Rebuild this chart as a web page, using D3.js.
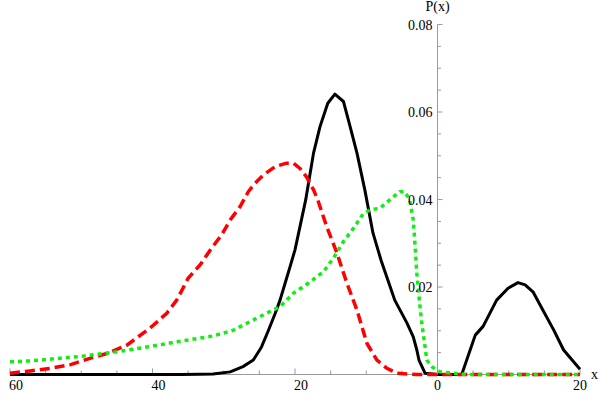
<!DOCTYPE html>
<html>
<head>
<meta charset="utf-8">
<script src="https://cdn.jsdelivr.net/npm/d3@7"></script>
<style>
  html, body { margin: 0; padding: 0; background: #fff; }
  svg { display: block; }
  text { font-family: "Liberation Serif", "DejaVu Serif", serif; }
</style>
</head>
<body>
<svg id="chart" width="600" height="395"></svg>
<script>
// ---- data ----
const xTickValues = [-60, -40, -20, 0, 20];
const xTickLabels = ["60", "40", "20", "0", "20"];
const yTickValues = [0.02, 0.04, 0.06, 0.08];
const yTickLabels = ["0.02", "0.04", "0.06", "0.08"];

const blackSeries = [
  [-60, 0], [-45, 0], [-36, 0], [-33.3, 0.00005], [-31.5, 0.0001], [-29.1, 0.0006],
  [-27.3, 0.0018], [-25.85, 0.0033], [-24.7, 0.0063], [-23.75, 0.01], [-22.8, 0.0139],
  [-22.1, 0.017], [-21.4, 0.0208], [-20.7, 0.0246], [-20.0, 0.0285], [-19.3, 0.0338],
  [-18.5, 0.0399], [-17.4, 0.0506], [-16.5, 0.0566], [-15.4, 0.062], [-14.4, 0.0641],
  [-13.2, 0.0624], [-12.4, 0.0575], [-11.3, 0.0506], [-10.2, 0.0422], [-9.05, 0.0323],
  [-7.9, 0.026], [-7.2, 0.0227], [-6.0, 0.017], [-4.3, 0.0118], [-3.4, 0.0086],
  [-2.9, 0.0056], [-2.6, 0.0033], [-1.75, 0.0003], [0, 0], [3.4, 0],
  [4.1, 0.0033], [5.3, 0.009], [6.4, 0.011], [8.3, 0.017], [9.9, 0.0197],
  [11.3, 0.021], [12.3, 0.0205], [13.4, 0.0189], [14.8, 0.0147], [16.3, 0.0102],
  [17.7, 0.0056], [19.1, 0.0029], [20, 0.0012]
];

const redSeries = [
  [-60, 0.0003], [-57.2, 0.0008], [-54.4, 0.0014], [-51.6, 0.0022], [-48.8, 0.0037],
  [-46.4, 0.0048], [-43.6, 0.0067], [-40.35, 0.0106], [-38.0, 0.014], [-36.6, 0.017],
  [-35.0, 0.022], [-33.3, 0.0251], [-31.7, 0.0289], [-30.3, 0.0319], [-29.1, 0.0353],
  [-27.7, 0.0384], [-26.55, 0.0418], [-25.6, 0.0437], [-24.45, 0.0456], [-22.8, 0.0475],
  [-21.2, 0.0483], [-20.2, 0.0483], [-19.3, 0.0471], [-18.4, 0.0452],
  [-17.4, 0.0422], [-16.8, 0.0399], [-15.55, 0.0338], [-14.1, 0.0277], [-12.7, 0.0208],
  [-11.3, 0.0147], [-9.9, 0.0071], [-8.5, 0.0033], [-7.1, 0.0014], [-5.7, 0.0003],
  [-3, 0], [20, 0]
];

const greenSeries = [
  [-60, 0.0029], [-57.2, 0.0031], [-54.4, 0.0035], [-49.7, 0.0042], [-45.0, 0.0052],
  [-40.35, 0.0064], [-36.1, 0.0076], [-31.5, 0.0088], [-28.7, 0.0101], [-26.3, 0.0121],
  [-24.0, 0.014], [-22.1, 0.0155], [-20.2, 0.0186], [-18.1, 0.0209], [-16.0, 0.0235],
  [-14.6, 0.0266], [-13.2, 0.0304], [-11.8, 0.0334], [-10.4, 0.0368], [-9.5, 0.0376],
  [-8.1, 0.038], [-6.7, 0.0399], [-5.3, 0.0418], [-4.6, 0.0418], [-3.9, 0.0399],
  [-3.4, 0.0353], [-3.2, 0.0307], [-2.9, 0.0231], [-2.55, 0.017], [-2.2, 0.0117],
  [-1.75, 0.0064], [-1.5, 0.0033], [-0.8, 0.0018], [0.35, 0.0006], [2.2, 0.0003],
  [4, 0], [20, 0]
];

// ---- layout ----
const svg = d3.select("#chart");
const x = d3.scaleLinear().domain([-60, 20]).range([10, 580]);
const y = d3.scaleLinear().domain([0, 0.08]).range([374.5, 24.5]);
const axisColor = "#9a9a9a";

// x axis line + ticks
const gx = svg.append("g");
gx.append("line")
  .attr("x1", x(-60)).attr("x2", x(20))
  .attr("y1", y(0)).attr("y2", y(0))
  .attr("stroke", axisColor).attr("stroke-width", 1);
const xMinor = d3.range(-60, 20.001, 5);
gx.selectAll("line.xt").data(xMinor).join("line")
  .attr("class", "xt")
  .attr("x1", d => x(d)).attr("x2", d => x(d))
  .attr("y1", y(0)).attr("y2", d => y(0) - (xTickValues.includes(d) ? 6 : 4))
  .attr("stroke", axisColor).attr("stroke-width", 1);
gx.selectAll("text").data(xTickValues).join("text")
  .attr("x", d => x(d) + (d < 0 ? 6 : 0))
  .attr("y", 390)
  .attr("text-anchor", "middle")
  .attr("font-size", 14)
  .attr("fill", "#000")
  .text((d, i) => xTickLabels[i]);

// y axis line + ticks
const gy = svg.append("g");
gy.append("line")
  .attr("x1", x(0)).attr("x2", x(0))
  .attr("y1", y(0)).attr("y2", y(0.08))
  .attr("stroke", axisColor).attr("stroke-width", 1);
const yMinor = d3.range(0.005, 0.0801, 0.005);
gy.selectAll("line.yt").data(yMinor).join("line")
  .attr("class", "yt")
  .attr("x1", x(0)).attr("x2", (d, i) => x(0) + ((i + 1) % 4 === 0 ? 5 : 3.5))
  .attr("y1", d => y(d)).attr("y2", d => y(d))
  .attr("stroke", axisColor).attr("stroke-width", 1);

// curves
const line = d3.line().x(d => x(d[0])).y(d => y(d[1]));
svg.append("path").datum(blackSeries)
  .attr("d", line).attr("fill", "none")
  .attr("stroke", "#000").attr("stroke-width", 3).attr("stroke-linejoin", "round");
svg.append("path").datum(redSeries)
  .attr("d", line).attr("fill", "none")
  .attr("stroke", "#ff0000").attr("stroke-width", 3.5)
  .attr("stroke-dasharray", "10,5");
svg.append("path").datum(greenSeries)
  .attr("d", line).attr("fill", "none")
  .attr("stroke", "#11ee11").attr("stroke-width", 3.5)
  .attr("stroke-dasharray", "4,4");

// y tick labels (drawn on top)
gy.raise();
svg.append("g").selectAll("text").data(yTickValues).join("text")
  .attr("x", x(0) - 5)
  .attr("y", d => y(d) + 5)
  .attr("text-anchor", "end")
  .attr("font-size", 14)
  .attr("fill", "#000")
  .text((d, i) => yTickLabels[i]);

// axis labels
svg.append("text").attr("x", x(0)).attr("y", 11)
  .attr("text-anchor", "middle").attr("font-size", 14).text("P(x)");
svg.append("text").attr("x", 591).attr("y", 379)
  .attr("text-anchor", "start").attr("font-size", 14).text("x");
</script>
</body>
</html>
